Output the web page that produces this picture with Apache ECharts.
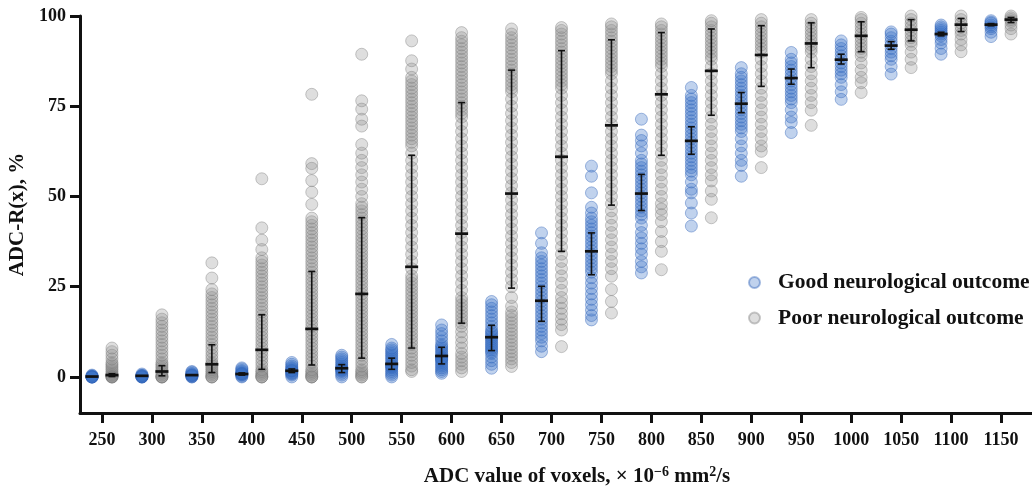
<!DOCTYPE html>
<html>
<head>
<meta charset="utf-8">
<script src="https://cdn.jsdelivr.net/npm/echarts@6/dist/echarts.min.js"></script>
<style>html,body{margin:0;padding:0;background:#fff;}#c{width:1032px;height:487px;}</style>
</head>
<body>
<div id="c"></div>
<script>
// ADC bins (x-axis categories / tick labels)
const categories = [250,300,350,400,450,500,550,600,650,700,750,800,850,900,950,1000,1050,1100,1150];
const yTicks = [0,25,50,75,100];

// Good neurological outcome: individual ADC-R(x) values per bin
const goodValues = [
  [0,0,0,0,0,0.2,0.3,0.5,0,0],
  [0,0,0,0.2,0.3,0.5,0.8,0,0.1,0.4],
  [0,0,0.2,0.4,0.6,0.8,1,1.3,1.5,0.3,0.5],
  [0,0.2,0.5,0.8,1,1.2,1.5,1.8,2.2,2.5,0.6,0.9],
  [0,0.5,0.8,1.2,1.5,1.8,2,2.3,2.6,3,3.5,4,1,1.7],
  [0,0.5,1,1.5,2,2.3,2.6,3,3.5,4,4.5,5,5.5,6,2.2,1.8],
  [0,0.5,1,1.5,2,2.5,3,3.5,4,4.5,5,5.5,6,6.5,7,7.5,8,9,3.2,2.8],
  [1,1.5,2,2.5,3,3.5,4,4.5,5,5.5,6,6.5,7,7.5,8,8.5,9,10,11,12,13,14.4,5.2,4.8],
  [2.4,3.5,4.5,5.5,6.5,7,7.5,8,8.5,9,9.5,10,10.5,11,11.5,12,12.5,13,14,15,16,17,18,19,20,20.9],
  [7,8.5,10,11,12,13,14,15,16,17,18,19,20,21,22,23,24,25,26,27,28,29,30,31,32,33,34.4,37,39.9],
  [15.8,17,18.5,20,21.5,23,24.5,26,27.5,29,30,31,32,33,34,35,36,37,38,39,40,41,42,43,44,45.4,47,51,55.6,58.4],
  [28.8,30.5,32,34,35.5,37,38.5,40,42,44,45,46,47,48,49,50,51,52,53,54,55,56,57,58,59,60,62,64,65.5,67,71.4],
  [41.8,45.4,48.2,51,52,54,56,57,58,59,60,61,62,63,64,65,66,67,68,69,70,71,72,73,74,75,76,77,78,80.2],
  [55.6,58.6,60,62,64,66,68,69,70,71,72,73,74,75,76,77,78,79,80,81,82,83,84,85.7],
  [67.7,70.5,72,74,76,77,78,79,80,81,82,83,84,85,86,87,88,89.9],
  [76.9,79,81,83,84,85,86,87,88,89,90,91,92,93.1],
  [83.9,86,88,89,90,91,92,93,94,95,95.6],
  [89.4,91,92.5,93.5,94.5,95,95.5,96,96.5,97,97.5],
  [94.3,95.5,96.5,97,97.5,98,98.3,98.7]
];

// Poor neurological outcome: individual ADC-R(x) values per bin
const poorValues = [
  [0,0,0,0,0.3,0.6,1,1.5,2,2.5,3,3.5,4,5,6,7,8],
  [0,0,0,0,0.5,1,1.5,2,2.5,3,3.5,4,5,6,7,8,9,10,11,12,13,14,15,16,17.2],
  [0,0,0,0.5,1,1.5,2,2.5,3,3.5,4,5,6,7,8,9,10,11,12,13,14,15,16,17,18,19,20,21,22,23,24.2,27.4,31.6],
  [0,0,0,0.5,1,1.5,2,3,4,5,6,7,8,9,10,11,12,13,14,15,16,17,18,19,20,21,22,23,24,25,26,27,28,29,30,31,32,33,35.3,37.9,41.3,54.9],
  [0,0,0,0.5,1,1.5,2,3,4,5,6,7,8,9,10,11,12,13,14,15,16,17,18,19,20,21,22,23,24,25,26,27,28,29,30,31,32,33,34,35,36,37,38,39,40,41,42,43,44,47.8,51.2,54.4,57.8,59.1,78.3],
  [0,0,0.5,1,1.5,2,3,4,5,6,7,8,9,10,11,12,13,14,15,16,17,18,19,20,21,22,23,24,25,26,27,28,29,30,31,32,33,34,35,36,37,38,39,40,41,42,43,44,45,46,47,48,50,52,54,56,58,60,62,64.4,69.5,71.4,74.2,76.5,89.4],
  [1.5,2,3,4,5,6,7,8,9,10,11,12,13,14,15,16,17,18,19,20,21,22,23,24,25,26,27,28,30,32,34,36,38,40,42,44,46,48,50,52,54,56,58,60,62,64,65,66,67,68,69,70,71,72,73,74,75,76,77,78,79,80,81,82,83,85.3,87.6,93.1],
  [1.5,2.5,3.5,4.5,5.5,6.5,8,9.5,11,12.5,14,15,16,17,18,19,20,21,22,24,26,28,30,32,34,36,38,40,42,44,46,48,50,52,54,56,58,60,62,64,66,68,70,72,73,74,75,76,77,78,79,80,81,82,83,84,85,86,87,88,89,90,91,92,93,94,95.4],
  [2.9,4,5,6,7,8,9,10,11,12,13,14,15,16,17,18,19.6,22,25,27,29,31,33,35,37,39,41,43,45,47,49,51,53,55,57,59,61,63,65,67,69,71,73,75,77,79,80,81,82,83,84,85,86,87,88,89,90,91,92,93,94,95,96.4],
  [8.4,13,14.5,16,17.5,19,20.5,22,24,26,28,30,32,34,36,38,40,42,44,46,48,50,52,54,56,58,60,62,64,66,68,70,72,74,76,78,80,81,82,83,84,85,86,87,88,89,90,91,92,93,94,95,96,96.8],
  [17.7,20.9,24.2,27.9,30,32,34,36,38,40,42,44,46,48,50,52,54,56,58,60,62,64,66,68,70,72,74,76,78,80,82,84,85,86,87,88,89,90,91,92,93,94,95,96,97,97.8],
  [29.7,34.8,37.5,40.3,43,45,46.5,48,50,52,54,56,58,60,62,64,66,68,70,72,74,76,78,80,82,84,86,87,88,89,90,91,92,93,94,95,96,97,97.8],
  [44.1,49.2,51.5,54.3,56,58,60,62,64,66,68,70,72,74,76,78,80,82,84,86,88,89,90,91,92,93,94,95,96,97,98,98.7],
  [58,62.5,64,66,68,70,72,74,76,78,80,82,84,86,88,90,91,92,93,94,95,96,97,98,99],
  [69.7,73.9,76,78,80,82,84,86,88,90,91,92,93,94,95,96,97,98,99],
  [78.8,81.5,83,85,87,89,90,91,92,93,94,95,96,97,98,99,99.6],
  [85.7,88,90,92,93,94,95,96,97,98,99,100],
  [90.1,92,93.5,95,96,97,98,99,100],
  [95,96.5,97.5,98.5,99,99.5,100]
];

// Mean and error-bar limits
const goodMean = [0.1,0.3,0.5,0.8,1.7,2.4,3.6,5.8,11,21.1,34.8,50.8,65.4,75.7,82.8,87.9,91.8,95,97.6];
const goodLow  = [0,0.1,0.3,0.5,1.2,1.2,2.1,3.6,7.3,15.4,28.3,46.1,61.7,73.2,81.1,86.7,90.8,94.5,97.3];
const goodHigh = [0.2,0.5,0.8,1.1,2.2,3.4,5.2,8.2,14.3,25.1,39.9,56.1,69.3,78.8,85.3,89.4,92.9,95.5,97.9];
const poorMean = [0.5,1.5,3.5,7.5,13.3,23,30.5,39.7,50.8,61,69.7,78.3,84.8,89.2,92.4,94.5,96.2,97.6,99];
const poorLow  = [0.1,0.3,1.2,2.1,3.3,5.2,8,14.9,24.6,34.8,47.6,61.4,72.5,80.5,85.7,90.1,93.1,95.7,98.2];
const poorHigh = [0.9,3.1,8.9,17.2,29.2,44.1,61.4,76,85,90.4,93.4,95.4,96.4,97.3,98.1,98.4,99,99.3,99.6];

const OFFSET = 10;
const goodPts = [], poorPts = [], goodErr = [], poorErr = [];
categories.forEach((c, i) => {
  goodValues[i].forEach(v => goodPts.push([c - OFFSET, v]));
  poorValues[i].forEach(v => poorPts.push([c + OFFSET, v]));
  goodErr.push([c - OFFSET, goodMean[i], goodLow[i], goodHigh[i]]);
  poorErr.push([c + OFFSET, poorMean[i], poorLow[i], poorHigh[i]]);
});

function renderErr(params, api) {
  const x = api.value(0), m = api.value(1), lo = api.value(2), hi = api.value(3);
  const pm = api.coord([x, m]), pl = api.coord([x, lo]), ph = api.coord([x, hi]);
  const capW = 3.5, meanW = 6.5;
  const st = { stroke: '#111', lineWidth: 1.6 };
  const children = [];
  if (pl[1] - ph[1] > 2) {
    children.push({ type: 'line', shape: { x1: pm[0], y1: pl[1], x2: pm[0], y2: ph[1] }, style: st });
    children.push({ type: 'line', shape: { x1: pm[0] - capW, y1: pl[1], x2: pm[0] + capW, y2: pl[1] }, style: st });
    children.push({ type: 'line', shape: { x1: pm[0] - capW, y1: ph[1], x2: pm[0] + capW, y2: ph[1] }, style: st });
  }
  children.push({ type: 'line', shape: { x1: pm[0] - meanW, y1: pm[1], x2: pm[0] + meanW, y2: pm[1] }, style: { stroke: '#111', lineWidth: 2.7 } });
  return { type: 'group', children };
}

const FONT = '"Liberation Serif", "Times New Roman", serif';
const chart = echarts.init(document.getElementById('c'), null, { renderer: 'canvas' });
chart.setOption({
  animation: false,
  backgroundColor: '#fff',
  grid: { left: 80, right: 0, top: 16, bottom: 74, containLabel: false, outerBoundsMode: 'none' },
  legend: {
    orient: 'vertical', left: 743, top: 266,
    data: ['Good neurological outcome', 'Poor neurological outcome'],
    icon: 'circle', itemWidth: 11, itemHeight: 11, itemGap: 12.5,
    textStyle: { fontFamily: FONT, fontWeight: 'bold', fontSize: 21.5, color: '#111', lineHeight: 23, padding: [0, 0, 0, 13] }
  },
  xAxis: {
    type: 'value', min: 228, max: 1181,
    axisLine: { onZero: false, lineStyle: { color: '#111', width: 3 } },
    axisTick: { show: true, customValues: categories, length: 10, lineStyle: { color: '#111', width: 3 } },
    axisLabel: { customValues: categories, formatter: v => String(v), margin: 18, color: '#111', fontFamily: FONT, fontWeight: 'bold', fontSize: 18 },
    splitLine: { show: false },
    name: '{a|ADC value of voxels, × 10}{s|−6}{a| mm}{s|2}{a|/s}',
    nameLocation: 'middle', nameGap: 52,
    nameTextStyle: {
      padding: [0, 0, 0, 42],
      rich: {
        a: { fontFamily: FONT, fontWeight: 'bold', fontSize: 21, color: '#111', lineHeight: 24 },
        s: { fontFamily: FONT, fontWeight: 'bold', fontSize: 14, color: '#111', lineHeight: 24, verticalAlign: 'top', padding: [0, 0, 8, 0] }
      }
    }
  },
  yAxis: {
    type: 'value', min: -10, max: 100,
    axisLine: { show: true, lineStyle: { color: '#111', width: 3 } },
    axisTick: { show: true, customValues: yTicks, length: 10, lineStyle: { color: '#111', width: 3 } },
    axisLabel: { customValues: yTicks, margin: 14, color: '#111', fontFamily: FONT, fontWeight: 'bold', fontSize: 18 },
    splitLine: { show: false },
    name: 'ADC-R(x), %', nameLocation: 'middle', nameGap: 44, nameRotate: 90,
    nameTextStyle: { fontFamily: FONT, fontWeight: 'bold', fontSize: 21, color: '#111' }
  },
  series: [
    {
      name: 'Good neurological outcome', type: 'scatter', data: goodPts, symbolSize: 12, clip: false,
      itemStyle: { color: 'rgba(60,115,200,0.4)', borderColor: 'rgba(50,100,185,0.55)', borderWidth: 1 },
      z: 2
    },
    {
      name: 'Poor neurological outcome', type: 'scatter', data: poorPts, symbolSize: 12, clip: false,
      itemStyle: { color: 'rgba(140,140,140,0.36)', borderColor: 'rgba(120,120,120,0.5)', borderWidth: 1 },
      z: 2
    },
    { type: 'custom', name: 'goodErr', data: goodErr, renderItem: renderErr, encode: { x: 0, y: 1 }, z: 5, clip: false },
    { type: 'custom', name: 'poorErr', data: poorErr, renderItem: renderErr, encode: { x: 0, y: 1 }, z: 5, clip: false }
  ]
});
</script>
</body>
</html>
